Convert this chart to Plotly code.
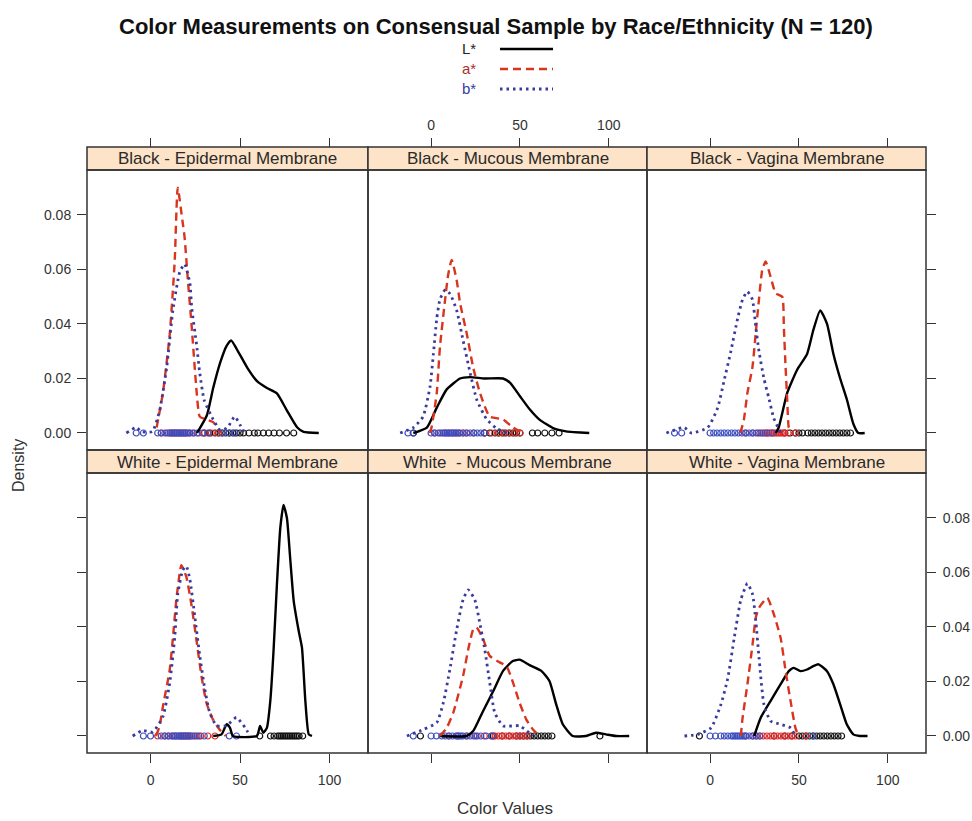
import plotly.graph_objects as go

# ---------------- data ----------------
panel_titles = ["Black - Epidermal Membrane", "Black - Mucous Membrane", "Black - Vagina Membrane",
                "White - Epidermal Membrane", "White  - Mucous Membrane", "White - Vagina Membrane"]
series_names = ["L*", "a*", "b*"]
x_tick_vals = [0, 50, 100]
y_tick_vals = [0.00, 0.02, 0.04, 0.06, 0.08]
y_tick_text = ["0.00", "0.02", "0.04", "0.06", "0.08"]

# Black - Epidermal
be_L_x = [26, 31.5, 35, 39, 42.5, 45, 48, 54, 59.5, 65, 70.6, 76, 82, 85.5, 94]
be_L_y = [0, 0.0065, 0.0165, 0.026, 0.032, 0.034, 0.031, 0.024, 0.019, 0.0165, 0.0145, 0.0085, 0.002, 0.0004, 0]
be_a_x = [3.4, 6.9, 10.7, 13.5, 15.2, 17.8, 19, 21, 23, 25.8, 27.5, 31, 35, 39]
be_a_y = [0.002, 0.0147, 0.036, 0.063, 0.090, 0.078, 0.072, 0.055, 0.039, 0.0147, 0.006, 0.005, 0.004, 0]
be_b_x = [-13.5, -8, -5, 1, 5, 9, 12.5, 16.3, 19, 22, 23, 25.8, 27.5, 30, 35, 39, 43, 47, 50, 52]
be_b_y = [0, 0.002, 0.0005, 0.0005, 0.008, 0.024, 0.045, 0.059, 0.062, 0.055, 0.046, 0.032, 0.022, 0.012, 0.005, 0.001, 0.002, 0.006, 0.003, 0]
be_L_rug = [30, 33, 36, 38, 40, 42, 44, 46, 48, 50, 52, 55, 58, 60, 63, 66, 69, 72, 76, 80]
be_a_rug = [6, 9, 11, 12, 13, 14, 15, 16, 17, 18, 19, 20, 22, 24, 27, 30, 34, 38]
be_b_rug = [-8, -4, 4, 6, 8, 10, 11, 12, 13, 14, 15, 16, 17, 18, 19, 20, 21, 22, 24, 26, 29, 32, 40, 44, 47]

# Black - Mucous
bm_L_x = [-10, -2.4, 3.2, 8.8, 16.3, 22, 30, 40.5, 44.5, 50, 55.6, 61, 68.7, 76, 89]
bm_L_y = [0, 0.002, 0.0093, 0.016, 0.020, 0.0205, 0.020, 0.020, 0.0184, 0.0135, 0.0086, 0.0049, 0.0018, 0.0006, 0]
bm_a_x = [-0.6, 0.4, 3.2, 5, 7.9, 9.6, 11.6, 14.4, 16.3, 20, 23.7, 27.5, 33, 40.5, 46, 52]
bm_a_y = [0, 0.0025, 0.0147, 0.0317, 0.049, 0.058, 0.0635, 0.056, 0.0477, 0.0367, 0.024, 0.0147, 0.006, 0.005, 0.002, 0]
bm_b_x = [-17.4, -10, -4.5, -0.6, 1.3, 3.2, 5, 7.9, 10.7, 14.4, 18, 22, 25.7, 31.3, 37, 42.6]
bm_b_y = [0, 0.002, 0.006, 0.017, 0.029, 0.042, 0.049, 0.0525, 0.051, 0.045, 0.034, 0.022, 0.0122, 0.005, 0.0016, 0]
bm_L_rug = [-10, 30, 33, 36, 38, 40, 42, 44, 46, 48, 50, 57, 60, 64, 68, 72]
bm_a_rug = [2, 5, 8, 10, 12, 14, 16, 18, 20, 24, 30, 34, 38, 41, 44, 47, 50]
bm_b_rug = [-13, -10, 0, 2, 4, 6, 7, 8, 9, 10, 11, 12, 13, 14, 15, 16, 18, 20, 22, 24, 26, 28, 30]

# Black - Vagina
bv_L_x = [37, 38.6, 43.4, 49, 54.6, 58.2, 62, 65.8, 69.4, 73.2, 77, 80.6, 83.4, 87]
bv_L_y = [0, 0.002, 0.0147, 0.0232, 0.029, 0.038, 0.045, 0.040, 0.029, 0.020, 0.0122, 0.0034, 0, 0]
bv_a_x = [17, 19, 21, 23.8, 25.7, 27.5, 29.4, 31.3, 34, 36.9, 40.6, 41.5, 42.5, 43.4, 44.3, 46]
bv_a_y = [0, 0.0048, 0.0147, 0.024, 0.0367, 0.049, 0.060, 0.0629, 0.0574, 0.0513, 0.050, 0.039, 0.024, 0.0122, 0.002, 0]
bv_b_x = [-24.6, -14.5, -10.6, -1.3, 4.3, 7.8, 11.7, 15.5, 18.3, 21, 23.8, 25.7, 27.5, 30.3, 33, 35.8, 39.7]
bv_b_y = [0, 0.002, 0, 0.002, 0.0093, 0.019, 0.030, 0.042, 0.049, 0.0519, 0.049, 0.039, 0.030, 0.020, 0.013, 0.0055, 0]
bv_L_rug = [42, 45, 48, 50, 52, 55, 57, 59, 61, 63, 65, 67, 69, 71, 73, 75, 77, 79]
bv_a_rug = [20, 24, 27, 29, 31, 32, 33, 34, 35, 36, 37, 38, 39, 40, 41, 42, 44, 48]
bv_b_rug = [-20, -16, 0, 2, 4, 6, 8, 10, 12, 14, 16, 18, 20, 22, 24, 26, 28, 30, 32, 35]

# White - Epidermal
we_L_x = [35, 39.7, 42.5, 44.4, 46, 59.4, 61.2, 63, 65, 66.9, 68.7, 70.6, 72.5, 74.3, 76.2, 78, 80, 82.8, 84.6, 86.5, 88.4, 90.2]
we_L_y = [0, 0.0006, 0.0043, 0.003, 0, 0, 0.0037, 0.0012, 0.003, 0.0128, 0.031, 0.0555, 0.0764, 0.0848, 0.080, 0.0654, 0.0495, 0.0385, 0.0324, 0.0128, 0.0006, 0]
we_a_x = [3, 5, 6.9, 10.7, 12.5, 14.4, 16.3, 17.2, 20, 22.9, 25.7, 28.5, 31.3, 35, 39, 42]
we_a_y = [0, 0.0034, 0.0108, 0.0242, 0.036, 0.050, 0.0598, 0.0627, 0.0584, 0.048, 0.035, 0.0218, 0.012, 0.0059, 0.002, 0]
we_b_x = [-10, -4.5, 1.3, 6.9, 10.7, 13.5, 15.2, 18, 20, 22, 24.7, 27.5, 30.3, 33, 36.9, 42.5, 48, 52.8, 55.6]
we_b_y = [0, 0.002, 0.0015, 0.0071, 0.0193, 0.036, 0.052, 0.0608, 0.0623, 0.0574, 0.044, 0.0295, 0.0173, 0.0087, 0.0038, 0.0038, 0.0068, 0.0031, 0]
we_L_rug = [61, 67, 69, 71, 72, 73, 74, 75, 76, 77, 78, 79, 80, 81, 82, 83, 85]
we_a_rug = [4, 8, 10, 12, 14, 16, 17, 18, 19, 20, 21, 22, 24, 26, 28, 32, 36]
we_b_rug = [-4, 0, 6, 8, 10, 12, 13, 14, 15, 16, 17, 18, 19, 20, 21, 22, 23, 25, 27, 30, 44, 48]

# White - Mucous
wm_L_x = [5, 20, 23.7, 29.3, 35, 40.5, 46, 49.8, 55.4, 62, 66.6, 70.4, 74.1, 79.7, 87.2, 92.8, 98.4, 104, 111.5]
wm_L_y = [0, 0, 0.0018, 0.0092, 0.0165, 0.0239, 0.0275, 0.028, 0.026, 0.0239, 0.0202, 0.0116, 0.0043, 0, 0, 0.0012, 0.0006, 0, 0]
wm_a_x = [5, 8.8, 12.5, 18, 20.9, 23.7, 25.6, 29.3, 33, 38.6, 42.4, 46.1, 49.8, 53.6, 57.3, 61]
wm_a_y = [0, 0.003, 0.0086, 0.022, 0.0318, 0.039, 0.0398, 0.0355, 0.0294, 0.027, 0.0257, 0.0196, 0.0122, 0.006, 0.0024, 0]
wm_b_x = [-13.6, -4.3, 3.2, 6.9, 10.6, 14.4, 18, 20.9, 24.6, 27.4, 30.2, 33, 35.8, 40.5, 49.8, 57.3]
wm_b_y = [0, 0.0024, 0.0049, 0.0122, 0.0245, 0.039, 0.050, 0.0536, 0.050, 0.0415, 0.0318, 0.0196, 0.0086, 0.0037, 0.0037, 0]
wm_L_rug = [-6, 35, 40, 44, 48, 50, 52, 54, 56, 58, 60, 62, 64, 66, 68, 95]
wm_a_rug = [10, 15, 20, 25, 30, 34, 36, 38, 40, 42, 44, 46, 48, 50, 52, 54]
wm_b_rug = [-10, 0, 3, 6, 8, 10, 12, 14, 15, 16, 17, 18, 20, 22, 24, 26, 28, 31, 34]

# White - Vagina
wv_L_x = [24.8, 28.5, 34, 39.7, 44.3, 47.1, 50.8, 54.6, 58.3, 61, 65.8, 69.4, 73.2, 76.9, 80.6, 84.4, 88.6]
wv_L_y = [0, 0.0067, 0.0128, 0.019, 0.0238, 0.025, 0.0238, 0.0244, 0.0257, 0.0263, 0.0238, 0.019, 0.0116, 0.0043, 0.0006, 0, 0]
wv_a_x = [17.3, 18.3, 21, 23.9, 25.7, 27.5, 32.2, 35.9, 39.7, 42.5, 45.3, 48, 49.8]
wv_a_y = [0, 0.0067, 0.0189, 0.0336, 0.0434, 0.047, 0.0507, 0.0446, 0.036, 0.0238, 0.0128, 0.003, 0]
wv_b_x = [-14.4, -6.9, 0.6, 6.1, 9.9, 13.6, 17.3, 21, 23.9, 25.7, 27.5, 30.3, 34, 39.7, 45.3, 48]
wv_b_y = [0, 0.0006, 0.003, 0.0116, 0.021, 0.036, 0.050, 0.056, 0.052, 0.0424, 0.029, 0.0116, 0.0055, 0.0043, 0.003, 0]
wv_L_rug = [-6, 36, 42, 46, 50, 52, 54, 56, 58, 60, 62, 64, 66, 68, 70, 72, 74]
wv_a_rug = [20, 24, 26, 28, 30, 32, 34, 36, 38, 40, 42, 44, 46, 48, 54]
wv_b_rug = [0, 3, 6, 8, 10, 12, 13, 14, 15, 16, 17, 18, 19, 20, 22, 24, 26, 28, 58]

panels = [
    [(be_L_x, be_L_y, be_L_rug), (be_a_x, be_a_y, be_a_rug), (be_b_x, be_b_y, be_b_rug)],
    [(bm_L_x, bm_L_y, bm_L_rug), (bm_a_x, bm_a_y, bm_a_rug), (bm_b_x, bm_b_y, bm_b_rug)],
    [(bv_L_x, bv_L_y, bv_L_rug), (bv_a_x, bv_a_y, bv_a_rug), (bv_b_x, bv_b_y, bv_b_rug)],
    [(we_L_x, we_L_y, we_L_rug), (we_a_x, we_a_y, we_a_rug), (we_b_x, we_b_y, we_b_rug)],
    [(wm_L_x, wm_L_y, wm_L_rug), (wm_a_x, wm_a_y, wm_a_rug), (wm_b_x, wm_b_y, wm_b_rug)],
    [(wv_L_x, wv_L_y, wv_L_rug), (wv_a_x, wv_a_y, wv_a_rug), (wv_b_x, wv_b_y, wv_b_rug)],
]

# ---------------- styling ----------------
W, H = 972, 821
FONT = "Liberation Sans, Arial, sans-serif"
line_colors = ["#000000", "#D8341E", "#3A3A9E"]
rug_colors = ["#111111", "#E02828", "#3B4DBF"]
dashes = ["solid", "8px,5px", "2.5px,4px"]
line_widths = [2.4, 2.4, 2.8]

cols = [(87, 368), (368, 647), (647, 926)]
rows = [(170, 450), (473, 753)]
strips = [(147, 170), (450, 473)]


def fx(px):
    return px / W


def fy(py):
    return 1 - py / H


fig = go.Figure()
shapes = []
annotations = []
layout_axes = {}
tickfont = dict(family=FONT, size=14, color="#333")

for k, series in enumerate(panels):
    r, c = divmod(k, 3)
    xa = "x" if k == 0 else f"x{k+1}"
    ya = "y" if k == 0 else f"y{k+1}"
    for s, (xs, ys, rug) in enumerate(series):
        fig.add_trace(go.Scatter(
            x=rug, y=[0] * len(rug), mode="markers", xaxis=xa, yaxis=ya,
            marker=dict(symbol="circle-open", size=6, color=rug_colors[s], line=dict(width=1.2)),
            showlegend=False, hoverinfo="skip"))
    for s, (xs, ys, rug) in enumerate(series):
        fig.add_trace(go.Scatter(
            x=xs, y=ys, mode="lines", xaxis=xa, yaxis=ya, name=series_names[s],
            line=dict(color=line_colors[s], width=line_widths[s], dash=dashes[s],
                      shape="spline", smoothing=0.5),
            showlegend=False))

    x0, x1 = cols[c]
    y0, y1 = rows[r]
    xkey = "xaxis" if k == 0 else f"xaxis{k+1}"
    ykey = "yaxis" if k == 0 else f"yaxis{k+1}"
    xax = dict(domain=[fx(x0), fx(x1)], range=[-35.5, 121.5], tickvals=x_tick_vals,
               ticks="outside", ticklen=9, tickwidth=1.4, tickcolor="#333",
               showgrid=False, zeroline=False, showline=False, tickfont=tickfont,
               fixedrange=True)
    if r == 0:
        xax.update(anchor="free", position=fy(strips[0][0]), side="top",
                   showticklabels=(c == 1), ticklabelstandoff=2)
    else:
        xax.update(anchor=ya, side="bottom", showticklabels=(c != 1), ticklabelstandoff=5)
    yax = dict(domain=[fy(y1), fy(y0)], range=[-0.00624, 0.0965], tickvals=y_tick_vals,
               ticktext=y_tick_text, anchor=xa, showgrid=False, zeroline=False,
               showline=False, tickfont=tickfont, fixedrange=True,
               ticklen=9, tickwidth=1.4, tickcolor="#333")
    if c == 0:
        yax.update(side="left", ticks="outside", showticklabels=(r == 0), ticklabelstandoff=3)
    elif c == 2:
        yax.update(side="right", ticks="outside", showticklabels=(r == 1), ticklabelstandoff=4)
    else:
        yax.update(ticks="", showticklabels=False)
    layout_axes[xkey] = xax
    layout_axes[ykey] = yax

    # panel border
    shapes.append(dict(type="rect", xref="paper", yref="paper", x0=fx(x0), x1=fx(x1),
                       y0=fy(y1), y1=fy(y0), line=dict(color="#333", width=1.5),
                       fillcolor="rgba(0,0,0,0)", layer="above"))
    # strip
    s0, s1 = strips[r]
    shapes.append(dict(type="rect", xref="paper", yref="paper", x0=fx(x0), x1=fx(x1),
                       y0=fy(s1), y1=fy(s0), line=dict(color="#333", width=1.5),
                       fillcolor="#FDE3C8", layer="below"))
    annotations.append(dict(text=panel_titles[k], x=fx((x0 + x1) / 2), y=fy((s0 + s1) / 2 + 0.5),
                            xref="paper", yref="paper", showarrow=False,
                            font=dict(family=FONT, size=17, color="#2a2a2a"),
                            xanchor="center", yanchor="middle"))

# title
annotations.append(dict(text="<b>Color Measurements on Consensual Sample by Race/Ethnicity (N = 120)</b>",
                        x=fx(496), y=fy(26), xref="paper", yref="paper", showarrow=False,
                        font=dict(family=FONT, size=22, color="#111"),
                        xanchor="center", yanchor="middle"))
# legend (key)
key_y = [48, 68, 88]
key_label_colors = ["#222", "#A8302A", "#3A3A9E"]
for s in range(3):
    annotations.append(dict(text=series_names[s], x=fx(478), y=fy(key_y[s]), xref="paper", yref="paper",
                            showarrow=False, xanchor="right", yanchor="middle",
                            font=dict(family=FONT, size=15, color=key_label_colors[s])))
    shapes.append(dict(type="line", xref="paper", yref="paper", x0=fx(500), x1=fx(553),
                       y0=fy(key_y[s] + 1), y1=fy(key_y[s] + 1),
                       line=dict(color=line_colors[s], width=line_widths[s], dash=dashes[s])))

# axis titles
annotations.append(dict(text="Density", x=fx(18), y=fy(466), xref="paper", yref="paper",
                        showarrow=False, textangle=-90, xanchor="center", yanchor="middle",
                        font=dict(family=FONT, size=16, color="#333")))
annotations.append(dict(text="Color Values", x=fx(505), y=fy(808), xref="paper", yref="paper",
                        showarrow=False, xanchor="center", yanchor="middle",
                        font=dict(family=FONT, size=17, color="#333")))

fig.update_layout(width=W, height=H, margin=dict(l=0, r=0, t=0, b=0),
                  paper_bgcolor="white", plot_bgcolor="white", showlegend=False,
                  shapes=shapes, annotations=annotations, **layout_axes)

fig.write_html("out.html", config={"displayModeBar": False},
               post_script="document.body.style.margin='0';document.body.style.overflow='hidden';")
